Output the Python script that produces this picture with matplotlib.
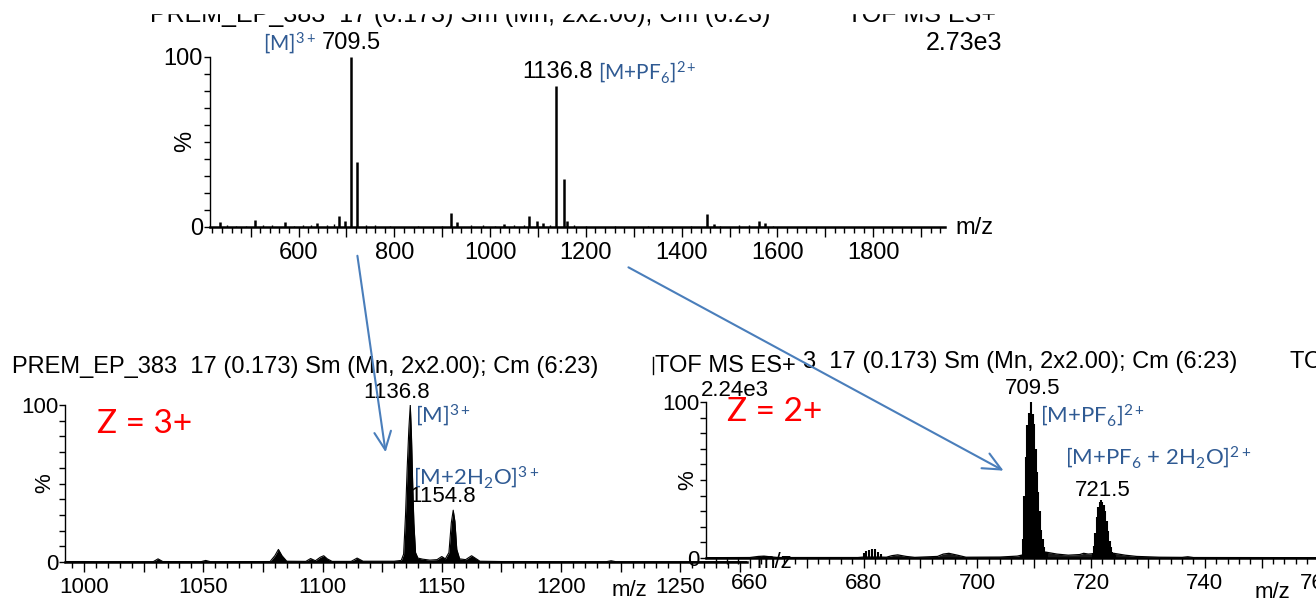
import numpy as np
import matplotlib.pyplot as plt
from matplotlib.ticker import MultipleLocator, FuncFormatter
from matplotlib.patches import Rectangle, FancyArrowPatch
from matplotlib.lines import Line2D

W, H = 1316, 603
plt.rcParams['font.family'] = ['Liberation Sans', 'DejaVu Sans']
plt.rcParams['mathtext.fontset'] = 'custom'
plt.rcParams['mathtext.rm'] = 'Lato'
plt.rcParams['mathtext.it'] = 'Lato:italic'
plt.rcParams['mathtext.bf'] = 'Lato:bold'

BLUE = '#2F5A93'
ARROW = '#4A7EBB'

# --- survey spectrum (sticks), m/z vs relative intensity % ---
top_mz = [435, 508, 571, 638, 685, 697, 709.5, 722, 918, 930, 1030,
          1082, 1098, 1110, 1136.8, 1154.8, 1160, 1452, 1468, 1562, 1575]
top_int = [3.0, 4.3, 3.0, 2.4, 6.5, 3.5, 100, 38, 8.0, 2.7, 2.0,
           6.7, 3.5, 2.4, 83, 28, 3.3, 7.6, 2.0, 3.7, 2.4]
# small baseline sticks
noise_mz = [450, 470, 490, 525, 545, 590, 610, 625, 660, 675, 740, 760, 790,
            850, 900, 960, 985, 1010, 1050, 1070, 1125, 1175, 1200, 1260,
            1330, 1420, 1480, 1520, 1540, 1590]
noise_int = [1.0, 0.8, 0.7, 1.2, 0.9, 0.8, 1.0, 1.3, 0.9, 1.5, 1.2, 0.9, 0.6,
             0.6, 0.5, 0.9, 1.0, 0.8, 0.9, 1.0, 1.4, 1.2, 0.8, 0.7,
             0.5, 0.6, 0.8, 1.0, 1.1, 0.8]

# --- zoom on the 3+ region (profile) ---
z3_mz = [992, 1000, 1005, 1029, 1031, 1033, 1049, 1051, 1053, 1078, 1080,
         1081.5, 1083, 1085, 1093, 1095, 1097, 1099, 1100.5, 1102, 1104,
         1112, 1114.5, 1117, 1130, 1133, 1134, 1134.8, 1135.5, 1136.2,
         1136.8, 1137.3, 1137.8, 1138.3, 1139, 1140, 1142, 1145, 1148,
         1150, 1151.5, 1153, 1154, 1154.8, 1155.5, 1156.3, 1157.5, 1160,
         1162.5, 1164, 1166, 1175, 1185, 1200, 1219, 1221, 1223, 1278]
z3_int = [0.3, 0.3, 0.2, 0.2, 2.0, 0.3, 0.2, 1.0, 0.2, 0.3, 4.0,
          8.0, 4.0, 0.5, 0.4, 2.2, 0.8, 3.0, 4.0, 2.0, 0.4,
          0.4, 2.5, 0.5, 0.5, 1.0, 5.0, 30, 60, 85,
          100, 80, 50, 25, 6.0, 2.5, 1.8, 1.2, 1.5,
          3.5, 2.0, 6.0, 25, 33, 26, 8.0, 2.0, 1.5,
          4.0, 2.5, 0.5, 0.3, 0.3, 0.2, 0.2, 0.8, 0.2, 0.2]

# --- zoom on the 2+ region ---
z2_mz = [652.3, 660, 661.5, 662.5, 663.5, 665, 679, 680, 683, 684, 685, 686,
         687.5, 689, 693, 694, 695, 696.5, 698, 704, 707, 708, 711, 712, 714,
         716, 718, 718.7, 719.5, 720.5, 724, 726, 728, 732, 736, 737, 738, 762]
z2_int = [0.2, 0.3, 1.0, 1.2, 0.8, 0.3, 0.3, 0.6, 0.6, 0.5, 1.5, 2.0,
          1.0, 0.4, 1.0, 2.5, 3.0, 1.8, 0.5, 0.6, 1.2, 2.0, 3.5, 3.8, 2.5,
          1.8, 2.2, 3.0, 2.5, 2.8, 3.0, 1.8, 1.0, 0.5, 0.4, 0.8, 0.3, 0.2]
stick_mz = [680.0, 680.5, 681.0, 681.5, 682.0, 682.5, 683.0,
            707.75, 708.0, 708.25, 708.5, 708.75, 709.0, 709.25, 709.5,
            709.75, 710.0, 710.25, 710.5, 710.75, 711.0, 711.25, 711.5,
            711.75, 712.0, 712.25,
            720.25, 720.5, 720.75, 721.0, 721.25, 721.5, 721.75, 722.0,
            722.25, 722.5, 722.75, 723.0, 723.25, 723.5, 723.75, 724.0, 724.25]
stick_int = [3.5, 4.5, 5.0, 6.0, 5.5, 4.0, 2.5,
             2, 12, 40, 65, 85, 93, 88, 100,
             92, 86, 70, 55, 42, 30, 18, 12,
             7, 4, 3,
             3, 8, 16, 26, 33, 36, 37.5, 36,
             34, 30, 24, 17, 11, 7, 4, 3, 2]

fig = plt.figure(figsize=(W / 100, H / 100), dpi=100)


def px_axes(x0, y_top, x1, y_bot):
    return fig.add_axes([x0 / W, 1 - y_bot / H, (x1 - x0) / W, (y_bot - y_top) / H])


def ftext(x, y, s, **kw):
    kw.setdefault('va', 'center')
    kw.setdefault('fontsize', 16)
    fig.text(x / W, 1 - y / H, s, **kw)


def style(ax, xlim, major, minor, labstep):
    ax.set_xlim(*xlim)
    ax.set_ylim(0, 100)
    ax.patch.set_alpha(0)
    for s in ['top', 'right']:
        ax.spines[s].set_visible(False)
    ax.spines['left'].set_linewidth(1.0)
    ax.spines['bottom'].set_linewidth(1.8)
    ax.xaxis.set_major_locator(MultipleLocator(major))
    ax.xaxis.set_minor_locator(MultipleLocator(minor))
    ax.xaxis.set_major_formatter(FuncFormatter(
        lambda v, p: f'{v:.0f}' if abs(v / labstep - round(v / labstep)) < 1e-6 else ''))
    ax.set_yticks([0, 50, 100])
    ax.set_yticklabels(['0', '', '100'])
    ax.yaxis.set_minor_locator(MultipleLocator(10))
    ax.tick_params(axis='x', which='major', length=7, width=1, labelsize=16, pad=4)
    ax.tick_params(axis='x', which='minor', length=4.5, width=1)
    ax.tick_params(axis='y', which='both', length=4, width=1, labelsize=16, pad=1)


# top panel
ax1 = px_axes(210, 57, 945, 227)
style(ax1, (415, 1950), 100, 20, 200)
ax1.tick_params(axis='both', which='major', labelsize=17)
ax1.vlines(noise_mz, 0, noise_int, color='k', lw=1)
ax1.vlines(top_mz, 0, top_int, color='k', lw=1.8)

# bottom-left panel
ax2 = px_axes(65, 405, 747, 562)
style(ax2, (992, 1278), 25, 5, 50)
ax2.fill_between(z3_mz, 0, z3_int, color='k', lw=0)
ax2.plot(z3_mz, z3_int, color='k', lw=0.8)

# bottom-right panel
ax3 = px_axes(706, 402, 1330, 558)
style(ax3, (652.3, 762.0), 10, 2, 20)
ax3.fill_between(z2_mz, 0, z2_int, color='k', lw=0, alpha=0.9)
ax3.plot(z2_mz, z2_int, color='k', lw=0.9)
ax3.vlines(stick_mz, 0, stick_int, color='k', lw=1.5)

# header of the top spectrum, partly cut off
ftext(150, 22, 'PREM_EP_383  17 (0.173) Sm (Mn, 2x2.00); Cm (6:23)', va='baseline', fontsize=18)
ftext(847, 22, 'TOF MS ES+', va='baseline', fontsize=18)
fig.add_artist(Rectangle((0, 1 - 13 / H), 1, 13 / H, transform=fig.transFigure,
                         color='white', zorder=10))
ftext(1002, 43, '2.73e3', ha='right', fontsize=18)
ftext(263, 43, r'[M]$^{3+}$', color=BLUE, family='Lato', fontsize=15)
ftext(322, 43, '709.5', fontsize=17)
ftext(522, 72, '1136.8', fontsize=17)
ftext(598, 72, r'[M+PF$_6$]$^{2+}$', color=BLUE, family='Lato', fontsize=15)
ftext(955, 228, 'm/z', fontsize=17)
ftext(185, 141, '%', rotation=90, ha='center', fontsize=17)

# bottom-left texts
ftext(12, 367, 'PREM_EP_383  17 (0.173) Sm (Mn, 2x2.00); Cm (6:23)', fontsize=17)
ftext(655, 366, 'TOF MS ES+', fontsize=17)
fig.add_artist(Line2D([653 / W, 653 / W], [1 - 357 / H, 1 - 374 / H], color='k', lw=1))
ftext(803, 362, '3  17 (0.173) Sm (Mn, 2x2.00); Cm (6:23)', fontsize=17)
ftext(1290, 362, 'TOF MS ES+', fontsize=17)
ftext(735, 390, '2.24e3', ha='center')
ftext(97, 424, 'Z = 3+', color='red', family='Lato', fontsize=24)
ftext(397, 392, '1136.8', ha='center')
ftext(415, 415, r'[M]$^{3+}$', color=BLUE, family='Lato')
ftext(413, 477, r'[M+2H$_2$O]$^{3+}$', color=BLUE, family='Lato')
ftext(443, 497, '1154.8', ha='center')
ftext(612, 590, 'm/z')
ftext(45, 483, '%', rotation=90, ha='center')

# bottom-right texts
ftext(727, 412, 'Z = 2+', color='red', family='Lato', fontsize=24)
ftext(1033, 388, '709.5', ha='center')
ftext(1040, 415, r'[M+PF$_6$]$^{2+}$', color=BLUE, family='Lato')
ftext(1065, 457, r'[M+PF$_6$ + 2H$_2$O]$^{2+}$', color=BLUE, family='Lato')
ftext(1103, 490, '721.5', ha='center')
ftext(757, 563, 'm/z')
ftext(1255, 592, 'm/z')
ftext(688, 480, '%', rotation=90, ha='center')

# arrows from survey peaks to zoomed regions
for (x0, y0), (x1, y1) in [((357, 253), (386, 455)), ((626, 266), (1006, 472))]:
    fig.add_artist(FancyArrowPatch(
        (x0 / W, 1 - y0 / H), (x1 / W, 1 - y1 / H), transform=fig.transFigure,
        arrowstyle='->,head_length=13,head_width=6', color=ARROW, lw=1.5, zorder=5))

fig.savefig('out.png', dpi=100)
